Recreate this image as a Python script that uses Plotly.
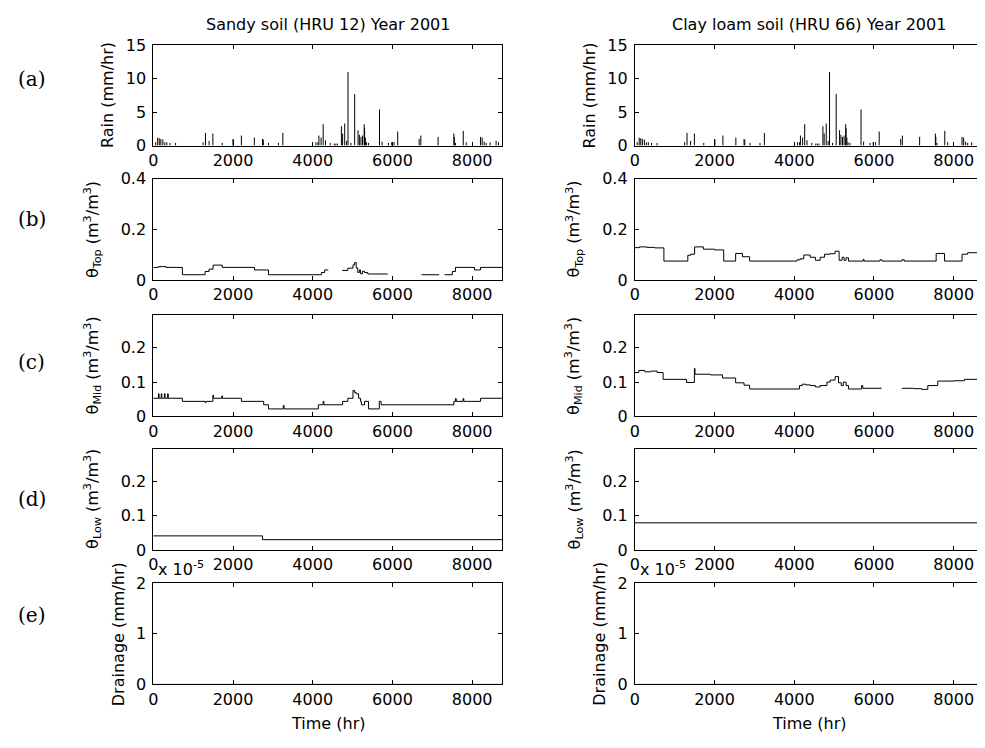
import plotly.graph_objects as go

# page body has an 8px margin, so the figure is drawn 8px in from the window corner
PAGE_PAD = 8
W, H = 985 - PAGE_PAD, 748 - PAGE_PAD

# hours in the year 2001
year_hours = 8760
x_ticks = [0, 2000, 4000, 6000, 8000]

# rainfall events (same forcing for both HRUs)
rain_hr = [60, 110, 150, 190, 240, 290, 340, 420, 560,
           1250, 1310, 1400, 1495, 1730,
           2000, 2010, 2210, 2535, 2740, 2760, 2890, 3140, 3250,
           4080, 4130, 4155, 4210, 4262, 4320, 4440, 4540, 4580, 4620,
           4719, 4750, 4802, 4850, 4885, 4960, 5052, 5137, 5170, 5210,
           5250, 5290, 5301, 5320, 5350, 5400, 5675, 5740, 5900, 5980,
           6040, 6131, 6670, 6712, 7145, 7540, 7552, 7580, 7776, 7850,
           8208, 8250, 8300, 8350, 8450, 8600, 8660]
rain_mm = [0.5, 1.2, 1.1, 1.0, 0.9, 0.5, 0.5, 0.4, 0.4,
           0.5, 1.9, 0.7, 1.8, 0.4,
           1.0, 0.9, 1.5, 1.2, 1.0, 0.9, 0.4, 0.4, 1.9,
           0.5, 0.5, 1.5, 1.2, 3.2, 0.8, 0.4, 0.3, 0.3, 0.3,
           2.9, 1.8, 3.3, 0.7, 11.0, 0.4, 7.7, 2.3, 1.6, 1.3,
           1.5, 3.2, 2.6, 1.2, 0.5, 0.4, 5.4, 0.6, 0.4, 0.5,
           0.5, 2.1, 1.0, 1.5, 1.3, 1.8, 1.3, 0.4, 2.2, 0.5,
           1.3, 1.2, 0.6, 0.4, 0.5, 0.7, 0.5]

# top layer soil moisture (m3/m3), step series, None = missing
sandy_top_hr = [0, 130, 320, 730, 1300, 1400, 1500, 1730, 2540, 2890,
                4220, 4300, 4390, 4390, 4740, 4880, 5010, 5050, 5090, 5130,
                5170, 5200, 5250, 5300, 5380, 5880, 5880, 6730, 7170, 7170,
                7310, 7500, 7580, 8060, 8210, 8760]
sandy_top = [0.050, 0.053, 0.050, 0.021, 0.034, 0.043, 0.059, 0.050, 0.040, 0.021,
             0.030, 0.040, 0.040, None, 0.038, 0.047, 0.060, 0.069, 0.048, 0.030,
             0.040, 0.025, 0.035, 0.030, 0.024, 0.024, None, 0.021, 0.021, None,
             0.021, 0.034, 0.050, 0.040, 0.050, 0.050]

clay_top_hr = [0, 120, 300, 500, 730, 1330, 1400, 1500, 1720, 2000,
               2230, 2530, 2700, 2880, 4070, 4150, 4240, 4400, 4530, 4650,
               4760, 4900, 5025, 5125, 5200, 5250, 5300, 5360, 5730, 5750,
               6150, 6200, 6700, 6760, 7560, 7770, 8210, 8350, 8760]
clay_top = [0.128, 0.131, 0.129, 0.127, 0.075, 0.098, 0.102, 0.131, 0.122, 0.119,
            0.075, 0.105, 0.092, 0.075, 0.080, 0.084, 0.099, 0.090, 0.078, 0.090,
            0.102, 0.104, 0.114, 0.078, 0.090, 0.078, 0.088, 0.075, 0.082, 0.075,
            0.080, 0.075, 0.080, 0.075, 0.105, 0.075, 0.102, 0.108, 0.110]

# middle layer
sandy_mid_hr = [0, 130, 145, 200, 215, 280, 295, 360, 375, 730,
                1300, 1320, 1495, 1510, 1720, 1735, 2210, 2770, 2890, 3260,
                3280, 4140, 4260, 4280, 4750, 4880, 5010, 5050, 5090, 5150,
                5200, 5220, 5300, 5400, 5670, 5715, 7540, 7580, 7600, 7770,
                7790, 8210, 8760]
sandy_mid = [0.053, 0.066, 0.053, 0.066, 0.053, 0.066, 0.053, 0.066, 0.053, 0.044,
             0.040, 0.044, 0.062, 0.053, 0.060, 0.053, 0.044, 0.034, 0.022, 0.032,
             0.022, 0.034, 0.044, 0.034, 0.044, 0.053, 0.076, 0.070, 0.066, 0.053,
             0.044, 0.034, 0.044, 0.022, 0.044, 0.034, 0.044, 0.052, 0.044, 0.052,
             0.044, 0.053, 0.053]

clay_mid_hr = [0, 100, 250, 400, 560, 710, 1300, 1495, 1510, 1900,
               2200, 2530, 2740, 2880, 4130, 4200, 4280, 4400, 4530, 4650,
               4820, 4900, 5025, 5110, 5180, 5230, 5300, 5360, 5690, 5720,
               6180, 6180, 6700, 7000, 7190, 7350, 7600, 8000, 8270, 8760]
clay_mid = [0.128, 0.134, 0.130, 0.132, 0.128, 0.108, 0.099, 0.140, 0.123, 0.121,
            0.112, 0.098, 0.091, 0.080, 0.090, 0.094, 0.092, 0.090, 0.086, 0.090,
            0.100, 0.106, 0.116, 0.098, 0.090, 0.100, 0.090, 0.080, 0.090, 0.082,
            0.084, None, 0.082, 0.081, 0.079, 0.090, 0.103, 0.104, 0.108, 0.104]

# lower layer
sandy_low_hr = [0, 2740, 8760]
sandy_low = [0.041, 0.030, 0.030]
clay_low_hr = [0, 8760]
clay_low = [0.079, 0.079]

# drainage (mm/hr)
drain_hr = [0, 8760]
sandy_drain = [0, 0]
clay_drain = [0, 0]

col_titles = ["Sandy soil (HRU 12) Year 2001", "Clay loam soil (HRU 66) Year 2001"]
row_letters = ["(a)", "(b)", "(c)", "(d)", "(e)"]
row_ytitles = ["Rain (mm/hr)",
               "θ<sub>Top</sub> (m<sup>3</sup>/m<sup>3</sup>)",
               "θ<sub>Mid</sub> (m<sup>3</sup>/m<sup>3</sup>)",
               "θ<sub>Low</sub> (m<sup>3</sup>/m<sup>3</sup>)",
               "Drainage (mm/hr)"]
row_ranges = [[0, 15], [0, 0.4], [0, 0.295], [0, 0.295], [0, 2e-5]]
row_ticks = [[0, 5, 10, 15], [0, 0.2, 0.4], [0, 0.1, 0.2], [0, 0.1, 0.2], [0, 1e-5, 2e-5]]
row_ticktext = [["0", "5", "10", "15"], ["0", "0.2", "0.4"], ["0", "0.1", "0.2"],
                ["0", "0.1", "0.2"], ["0", "1", "2"]]

# panel positions in window pixels
cols_px = [(149, 500), (633, 984)]
rows_px = [(37, 140), (174, 278), (314, 418), (451, 555), (589, 693)]
ytitle_off = [46, 61, 61, 61, 35]
letter_y = [72, 215, 362, 503, 622]


def fx(x):
    return (x - PAGE_PAD) / W


def fy(y):
    return 1 - (y - PAGE_PAD) / H


def rain_sticks(hours, vals):
    xs, ys = [], []
    for t, v in zip(hours, vals):
        xs += [t, t, None]
        ys += [0, v, None]
    return xs, ys


rain_x, rain_y = rain_sticks(rain_hr, rain_mm)
series = [
    [(rain_x, rain_y, 'linear'), (rain_x, rain_y, 'linear')],
    [(sandy_top_hr, sandy_top, 'hv'), (clay_top_hr, clay_top, 'hv')],
    [(sandy_mid_hr, sandy_mid, 'hv'), (clay_mid_hr, clay_mid, 'hv')],
    [(sandy_low_hr, sandy_low, 'hv'), (clay_low_hr, clay_low, 'hv')],
    [(drain_hr, sandy_drain, 'linear'), (drain_hr, clay_drain, 'linear')],
]

font = dict(family="DejaVu Sans", size=16, color="black")
fig = go.Figure()
layout = {}
annotations = []

for r in range(5):
    for c in range(2):
        n = r * 2 + c + 1
        sfx = "" if n == 1 else str(n)
        xs, ys, shape = series[r][c]
        fig.add_trace(go.Scatter(
            x=xs, y=ys, mode="lines", line=dict(color="black", width=1, shape=shape),
            connectgaps=False, hoverinfo="skip", xaxis="x" + sfx, yaxis="y" + sfx,
        ))
        x0, x1 = cols_px[c]
        y0, y1 = rows_px[r]
        common = dict(showline=True, linecolor="black", linewidth=1, mirror="ticks",
                      ticks="inside", ticklen=4, tickcolor="black", showgrid=False,
                      zeroline=False, tickfont=font, fixedrange=True)
        layout["xaxis" + sfx] = dict(domain=[fx(x0), fx(x1)], anchor="y" + sfx,
                                     range=[0, year_hours], tickvals=x_ticks, **common)
        layout["yaxis" + sfx] = dict(domain=[fy(y1), fy(y0)], anchor="x" + sfx,
                                     range=row_ranges[r], tickvals=row_ticks[r],
                                     ticktext=row_ticktext[r], ticklabelstandoff=3,
                                     **common)
        # y axis title
        annotations.append(dict(x=fx(x0 - ytitle_off[r]), y=fy((y0 + y1) / 2),
                                xref="paper", yref="paper", text=row_ytitles[r],
                                textangle=-90, showarrow=False, font=font,
                                xanchor="center", yanchor="middle"))

for c in range(2):
    x0, x1 = cols_px[c]
    annotations.append(dict(x=fx((x0 + x1) / 2), y=fy(16), xref="paper", yref="paper",
                            text=col_titles[c], showarrow=False, font=font,
                            xanchor="center", yanchor="middle"))
    annotations.append(dict(x=fx((x0 + x1) / 2), y=fy(733), xref="paper", yref="paper",
                            text="Time (hr)", showarrow=False, font=font,
                            xanchor="center", yanchor="middle"))
    annotations.append(dict(x=fx(x0 + 3), y=fy(574), xref="paper", yref="paper",
                            text="x 10<sup>-5</sup>", showarrow=False, font=font,
                            xanchor="left", yanchor="middle"))

for r in range(5):
    annotations.append(dict(x=fx(27), y=fy(letter_y[r]), xref="paper", yref="paper",
                            text=row_letters[r], showarrow=False,
                            font=dict(family="DejaVu Serif", size=20, color="black"),
                            xanchor="center", yanchor="middle"))

fig.update_layout(
    width=W, height=H,
    margin=dict(l=0, r=0, t=0, b=0),
    paper_bgcolor="white", plot_bgcolor="white",
    showlegend=False,
    annotations=annotations,
    **layout,
)

fig.write_html("out.html")
